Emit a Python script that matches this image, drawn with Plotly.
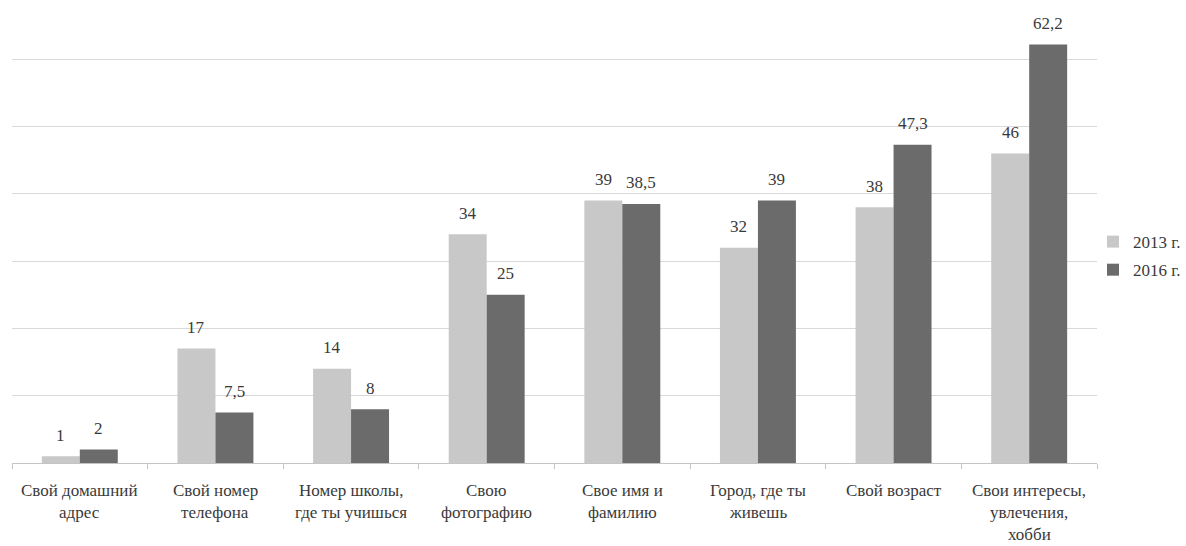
import plotly.graph_objects as go

categories = [
    "Свой домашний<br>адрес",
    "Свой номер<br>телефона",
    "Номер школы,<br>где ты учишься",
    "Свою<br>фотографию",
    "Свое имя и<br>фамилию",
    "Город, где ты<br>живешь",
    "Свой возраст",
    "Свои интересы,<br>увлечения,<br>хобби",
]
series_names = ["2013 г.", "2016 г."]
values_2013 = [1, 17, 14, 34, 39, 32, 38, 46]
values_2016 = [2, 7.5, 8, 25, 38.5, 39, 47.3, 62.2]
colors = ["#c8c8c8", "#6b6b6b"]

FONT = "Liberation Serif"
TEXT_COLOR = "#3a3a3a"
FS = 17


def fmt(v):
    s = ("%g" % v)
    return s.replace(".", ",")


fig = go.Figure()
for name, vals, col in zip(series_names, [values_2013, values_2016], colors):
    fig.add_trace(go.Bar(
        x=list(range(len(categories))), y=vals, name=name,
        marker=dict(color=col, line=dict(width=0)),
        legendgroup=name, hoverinfo="skip",
    ))

annotations = []
# value labels above each bar
bar_px = 38
for k, vals in enumerate([values_2013, values_2016]):
    shift = -bar_px / 2 if k == 0 else bar_px / 2
    for i, v in enumerate(vals):
        annotations.append(dict(
            x=i, y=v, xref="x", yref="y", text=fmt(v), showarrow=False,
            xshift=shift, yshift=21, font=dict(family=FONT, size=FS, color=TEXT_COLOR),
        ))

# category labels, one line each for wider line spacing
for i, cat in enumerate(categories):
    for j, line in enumerate(cat.split("<br>")):
        annotations.append(dict(
            x=i, y=0, xref="x", yref="paper", text=line, showarrow=False,
            yshift=-27.5 - 22 * j, font=dict(family=FONT, size=FS, color=TEXT_COLOR),
            yanchor="middle", borderpad=0,
        ))

fig.update_layout(
    width=1186, height=546,
    margin=dict(l=12, r=85, t=0, b=83),
    paper_bgcolor="white", plot_bgcolor="white",
    barmode="group", bargap=0.44, bargroupgap=0,
    font=dict(family=FONT, size=FS, color=TEXT_COLOR),
    showlegend=True,
    legend=dict(x=0.9963, y=0.447, xanchor="left", yanchor="middle",
                font=dict(family=FONT, size=FS, color=TEXT_COLOR),
                tracegroupgap=3, itemwidth=30, bgcolor="rgba(0,0,0,0)"),
    annotations=annotations,
    xaxis=dict(
        range=[-0.5, len(categories) - 0.5], tickmode="array",
        tickvals=[i - 0.5 for i in range(len(categories) + 1)], ticktext=[""] * (len(categories) + 1),
        showline=True, linecolor="#c4c4c4", linewidth=1,
        ticks="outside", ticklen=5, tickcolor="#c4c4c4",
        showgrid=False, zeroline=False, fixedrange=True,
    ),
    yaxis=dict(
        range=[0, 68.8], dtick=10, tick0=0, showticklabels=False,
        showgrid=True, gridcolor="#d9d9d9", gridwidth=1,
        zeroline=False, showline=False, ticks="", fixedrange=True,
    ),
)

fig.write_html("out.html")
